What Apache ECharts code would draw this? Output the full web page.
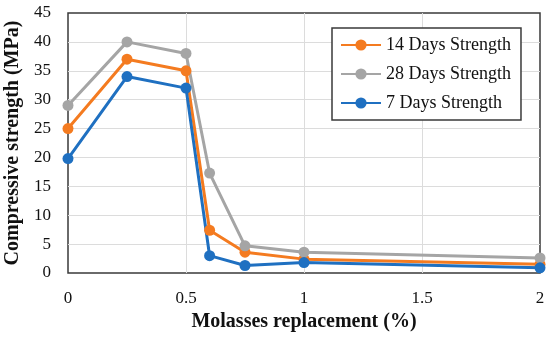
<!DOCTYPE html>
<html><head><meta charset="utf-8">
<script src="https://cdn.jsdelivr.net/npm/echarts@6/dist/echarts.min.js"></script>
<style>html,body{margin:0;padding:0;background:#fff}#c{width:550px;height:338px}</style>
</head><body><div id="c"></div>
<script>
const xValues = [0, 0.25, 0.5, 0.6, 0.75, 1, 2];
const seriesNames = ['14 Days Strength', '28 Days Strength', '7 Days Strength'];
const days14 = [25, 37, 35, 7.4, 3.6, 2.4, 1.5];
const days28 = [29, 40, 38, 17.3, 4.7, 3.6, 2.6];
const days7 = [19.8, 34, 32, 3.0, 1.3, 1.8, 0.9];
const colors = ['#F47B20', '#A5A5A5', '#1F70C1'];
const font = '"Liberation Serif", "DejaVu Serif", serif';

const allData = [days14, days28, days7];
const chart = echarts.init(document.getElementById('c'));
chart.setOption({
  animation: false,
  grid: { left: 68, right: 10, top: 13, bottom: 65, outerBoundsMode: 'none', containLabel: false,
    show: true, borderColor: '#3a3a3a', borderWidth: 1.5 },
  legend: {
    orient: 'vertical', left: 332, top: 28, itemWidth: 40, itemHeight: 14, itemGap: 11,
    padding: [8, 10, 8, 8], borderColor: '#3a3a3a', borderWidth: 1.5, backgroundColor: '#fff',
    textStyle: { fontFamily: font, fontSize: 18, color: '#111' },
    data: seriesNames
  },
  xAxis: {
    type: 'value', min: 0, max: 2, interval: 0.5,
    name: 'Molasses replacement (%)', nameLocation: 'middle', nameGap: 34,
    nameTextStyle: { fontFamily: font, fontSize: 20, fontWeight: 'bold', color: '#111' },
    axisLine: { show: false }, axisTick: { show: false },
    axisLabel: { fontFamily: font, fontSize: 17, color: '#111', margin: 17 },
    splitLine: { show: true, showMinLine: false, showMaxLine: false, lineStyle: { color: '#dcdcdc' } }
  },
  yAxis: {
    type: 'value', min: 0, max: 45, interval: 5,
    name: 'Compressive strength (MPa)', nameLocation: 'middle', nameGap: 42,
    nameTextStyle: { fontFamily: font, fontSize: 20, fontWeight: 'bold', color: '#111' },
    axisLine: { show: false }, axisTick: { show: false },
    axisLabel: { fontFamily: font, fontSize: 17, color: '#111', margin: 17 },
    splitLine: { show: true, showMinLine: false, showMaxLine: false, lineStyle: { color: '#dcdcdc' } }
  },
  series: seriesNames.map((n, i) => ({
    name: n, type: 'line', data: xValues.map((x, j) => [x, allData[i][j]]),
    symbol: 'circle', symbolSize: 11, color: colors[i],
    lineStyle: { width: 3, color: colors[i] }, itemStyle: { color: colors[i] }
  }))
});
</script></body></html>
